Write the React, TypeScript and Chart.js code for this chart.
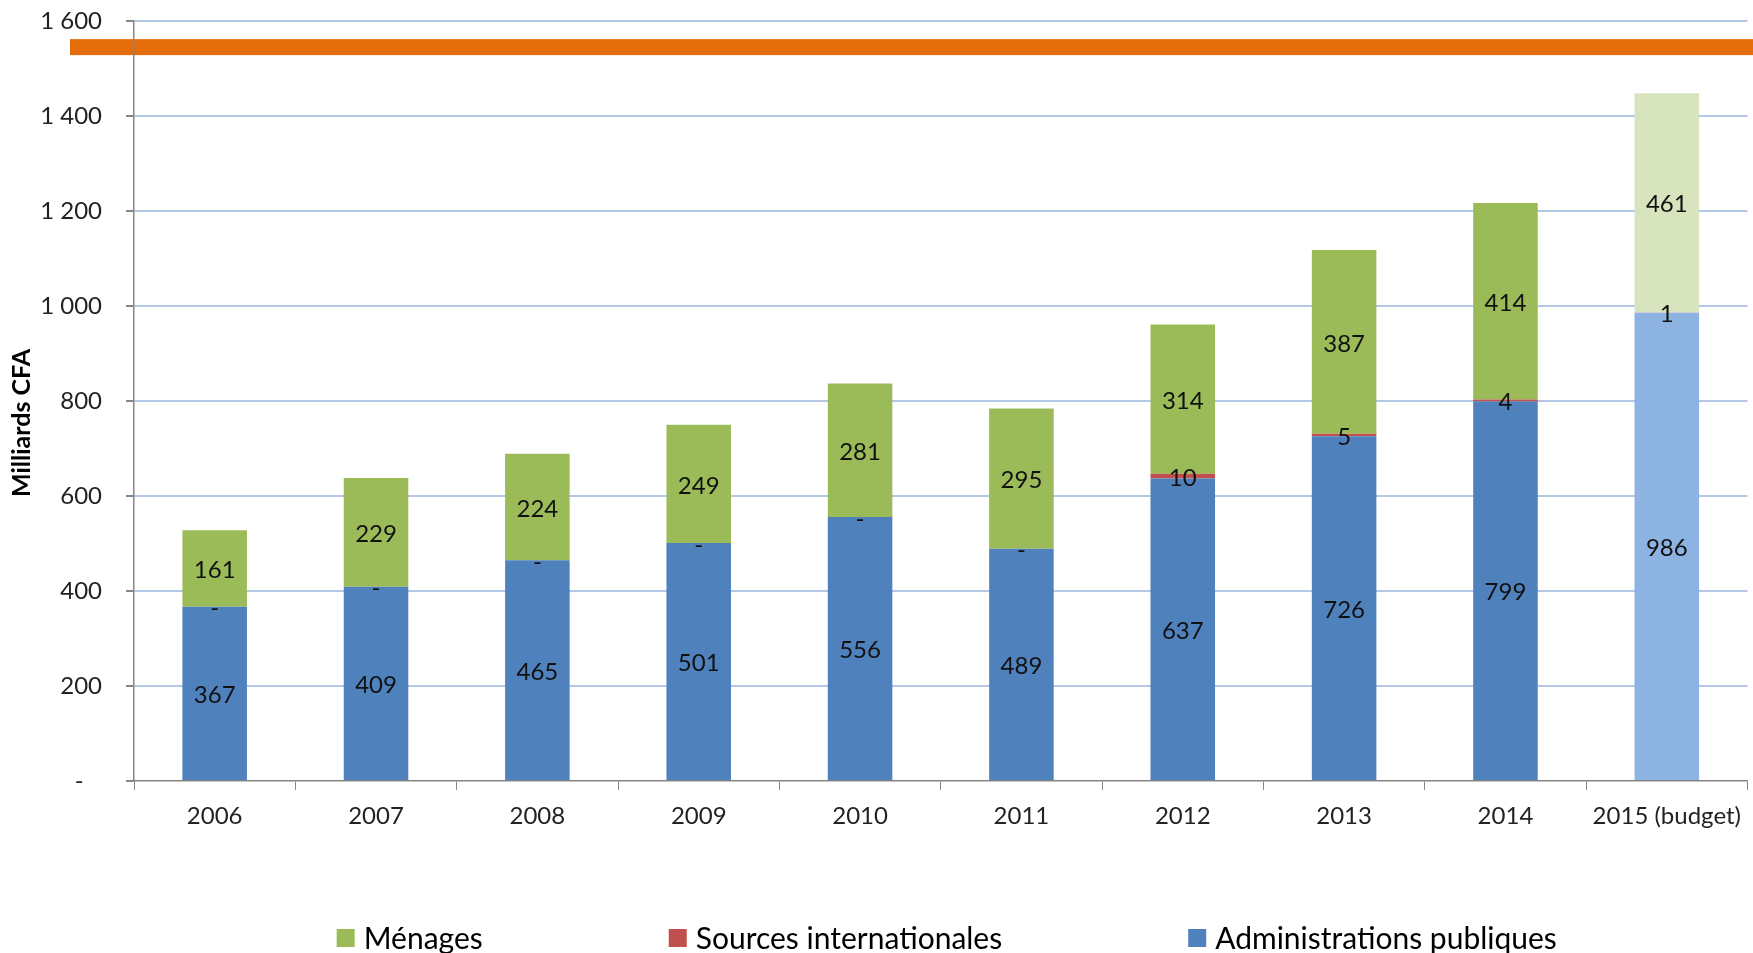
import React, { useEffect, useRef } from "react";
import { Chart, registerables } from "chart.js";

Chart.register(...registerables);

const categories = ["2006", "2007", "2008", "2009", "2010", "2011", "2012", "2013", "2014", "2015 (budget)"];
const administrations = [367, 409, 465, 501, 556, 489, 637, 726, 799, 986];
const internationales = [0, 0, 0, 0, 0, 0, 10, 5, 4, 1];
const menages = [161, 229, 224, 249, 281, 295, 314, 387, 414, 461];
const yTicks = [0, 200, 400, 600, 800, 1000, 1200, 1400, 1600];
const referenceLineValue = 1545;

const FONT = "Lato, 'Open Sans', sans-serif";

const blue = "#4f81bd";
const blueLight = "#8db3e2";
const red = "#c0504d";
const redLight = "#e6b9b8";
const green = "#9bbb59";
const greenLight = "#d7e4bd";

const lastIdx = categories.length - 1;
const colorsFor = (base: string, light: string) => categories.map((_, i) => (i === lastIdx ? light : base));

const fmt = (v: number) => {
  if (v === 0) return "-";
  const s = String(v);
  return s.replace(/\B(?=(\d{3})+(?!\d))/g, " ");
};

const legendItems = [
  { label: "Ménages", color: green },
  { label: "Sources internationales", color: red },
  { label: "Administrations publiques", color: blue },
];

const overlayPlugin = {
  id: "overlay",
  beforeDraw(chart: any) {
    const { ctx, chartArea, scales } = chart;
    const y = scales.y.getPixelForValue(referenceLineValue);
    ctx.save();
    ctx.fillStyle = "#e46c0a";
    ctx.fillRect(chartArea.left - 64, y - 8, chart.width - (chartArea.left - 64), 16);
    ctx.restore();
  },
  afterDatasetsDraw(chart: any) {
    const { ctx } = chart;
    ctx.save();
    ctx.font = `24px ${FONT}`;
    ctx.fillStyle = "#111";
    ctx.textAlign = "center";
    ctx.textBaseline = "middle";
    chart.data.datasets.forEach((ds: any, di: number) => {
      const meta = chart.getDatasetMeta(di);
      meta.data.forEach((el: any, i: number) => {
        const v = ds.data[i];
        const cy = (el.y + el.base) / 2;
        ctx.fillText(fmt(v), el.x, cy + 2);
      });
    });
    ctx.restore();
  },
  afterDraw(chart: any) {
    const { ctx, chartArea } = chart;
    // y-axis title
    ctx.save();
    ctx.font = `bold 25px ${FONT}`;
    ctx.fillStyle = "#000";
    ctx.textAlign = "center";
    ctx.textBaseline = "middle";
    ctx.translate(22, (chartArea.top + chartArea.bottom) / 2 + 22);
    ctx.rotate(-Math.PI / 2);
    ctx.fillText("Milliards CFA", 0, 0);
    ctx.restore();

    // legend
    ctx.save();
    ctx.font = `30px ${FONT}`;
    ctx.textBaseline = "middle";
    ctx.textAlign = "left";
    const box = 18;
    const boxGap = 9;
    const itemGap = 186;
    const widths = legendItems.map((it) => box + boxGap + ctx.measureText(it.label).width);
    const total = widths.reduce((a, b) => a + b, 0) + itemGap * (legendItems.length - 1);
    let x = (chartArea.left + chartArea.right) / 2 - total / 2 + 6;
    const cy = 938;
    legendItems.forEach((it, i) => {
      ctx.fillStyle = it.color;
      ctx.fillRect(x, cy - box / 2, box, box);
      ctx.fillStyle = "#000";
      ctx.fillText(it.label, x + box + boxGap, cy + 1);
      x += widths[i] + itemGap;
    });
    ctx.restore();
  },
};

export default function App() {
  const ref = useRef<HTMLCanvasElement | null>(null);

  useEffect(() => {
    document.body.style.margin = "0";
    const canvas = ref.current;
    if (!canvas) return;
    const chart = new Chart(canvas, {
      type: "bar",
      data: {
        labels: categories,
        datasets: [
          {
            label: "Administrations publiques",
            data: administrations,
            backgroundColor: colorsFor(blue, blueLight),
            borderWidth: 0,
          },
          {
            label: "Sources internationales",
            data: internationales,
            backgroundColor: colorsFor(red, redLight),
            borderWidth: 0,
          },
          {
            label: "Ménages",
            data: menages,
            backgroundColor: colorsFor(green, greenLight),
            borderWidth: 0,
          },
        ],
      },
      options: {
        animation: false,
        responsive: false,
        maintainAspectRatio: false,
        datasets: { bar: { categoryPercentage: 1, barPercentage: 0.4 } },
        layout: { padding: { top: 21, right: 0, left: 0, bottom: 0 } },
        plugins: {
          legend: { display: false },
          tooltip: { enabled: false },
        },
        scales: {
          x: {
            stacked: true,
            offset: true,
            grid: {
              offset: true,
              drawOnChartArea: false,
              drawTicks: true,
              tickLength: 9,
              color: "#868686",
              tickColor: "#868686",
            },
            border: { display: true, color: "#868686", width: 1.5 },
            ticks: {
              color: "#222",
              font: { family: FONT, size: 24 },
              padding: 12,
              maxRotation: 0,
              autoSkip: false,
            },
            afterFit: (axis: any) => {
              axis.height = 172;
            },
          },
          y: {
            stacked: true,
            min: 0,
            max: 1600,
            afterBuildTicks: (axis: any) => {
              axis.ticks = yTicks.map((v) => ({ value: v }));
            },
            grid: {
              color: (c: any) => (c.tick && c.tick.value === 0 ? "rgba(0,0,0,0)" : "#b4c7e7"),
              lineWidth: 2,
              tickColor: "#868686",
              tickLength: 8,
              drawTicks: true,
            },
            border: { display: true, color: "#868686", width: 1.5 },
            ticks: {
              color: "#222",
              font: { family: FONT, size: 24 },
              padding: 24,
              callback: (v: any) => (Number(v) === 0 ? "-   " : fmt(Number(v))),
            },
            afterFit: (axis: any) => {
              axis.width = 134;
              axis.paddingTop = 0;
              axis.paddingBottom = 0;
            },
          },
        },
      },
      plugins: [overlayPlugin],
    });
    return () => chart.destroy();
  }, []);

  return (
    <div style={{ width: 1753, height: 953 }}>
      <canvas ref={ref} width={1753} height={953} style={{ display: "block", width: 1753, height: 953 }} />
    </div>
  );
}
